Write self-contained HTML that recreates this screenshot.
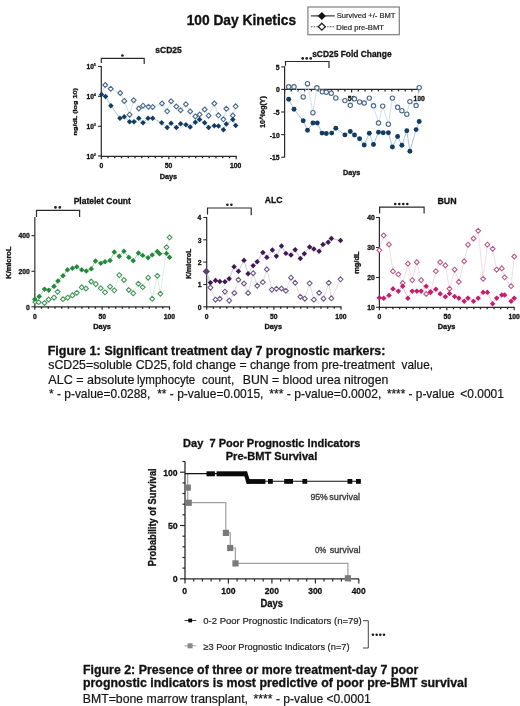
<!DOCTYPE html>
<html><head><meta charset="utf-8"><title>100 Day Kinetics</title>
<style>
html,body{margin:0;padding:0;background:#fff;}
body{width:520px;height:706px;overflow:hidden;}
svg{display:block;font-family:"Liberation Sans", sans-serif;filter:blur(0.45px);}
svg text{white-space:pre;}
</style></head>
<body>
<svg width="520" height="706" viewBox="0 0 520 706" xml:space="preserve">
<rect width="520" height="706" fill="#fff"/>
<text x="186.63" y="25.10" font-size="15.0" font-weight="bold" fill="#111" stroke="#111" stroke-width="0.35" textLength="109.43" lengthAdjust="spacingAndGlyphs" >100 Day Kinetics</text>
<rect x="307.9" y="7.0" width="91.4" height="27.7" fill="none" stroke="#7e7e7e" stroke-width="1.2"/>
<line x1="310.9" y1="15.9" x2="334.8" y2="15.9" stroke="#222" stroke-width="1.1" />
<path d="M321.8,11.9L325.8,15.9L321.8,19.9L317.8,15.9Z" fill="#111"/>
<line x1="310.9" y1="26.7" x2="334.8" y2="26.7" stroke="#555" stroke-width="1.1" stroke-dasharray="1.6 1.1"/>
<path d="M321.8,23.2L325.3,26.7L321.8,30.2L318.3,26.7Z" fill="#fff" stroke="#222" stroke-width="1.3"/>
<text x="336.66" y="18.10" font-size="7" fill="#2a2a2a" stroke="#2a2a2a" stroke-width="0.2" textLength="58.72" lengthAdjust="spacingAndGlyphs" >Survived +/- BMT</text>
<text x="336.37" y="29.60" font-size="7" fill="#2a2a2a" stroke="#2a2a2a" stroke-width="0.2" textLength="47.60" lengthAdjust="spacingAndGlyphs" >Died pre-BMT</text>
<text x="155.30" y="52.90" font-size="9.3" font-weight="bold" fill="#111" stroke="#111" stroke-width="0.3" textLength="26.43" lengthAdjust="spacingAndGlyphs" >sCD25</text>
<path d="M101.3,63 V58.3 H144.2 V64" stroke="#2a2a2a" stroke-width="1.2" fill="none" />
<circle cx="122.4" cy="55.5" r="1.3" fill="#1a1a1a"/>
<line x1="101.3" y1="65.9" x2="101.3" y2="156.3" stroke="#2a2a2a" stroke-width="1.2" />
<line x1="98.0" y1="66.5" x2="101.3" y2="66.5" stroke="#2a2a2a" stroke-width="1.1" />
<line x1="98.0" y1="96.3" x2="101.3" y2="96.3" stroke="#2a2a2a" stroke-width="1.1" />
<line x1="98.0" y1="126.3" x2="101.3" y2="126.3" stroke="#2a2a2a" stroke-width="1.1" />
<line x1="98.0" y1="156.0" x2="101.3" y2="156.0" stroke="#2a2a2a" stroke-width="1.1" />
<text x="86.53" y="69.37" font-size="6.6" font-weight="bold" fill="#111" stroke="#111" stroke-width="0.3">10</text>
<text x="93.70" y="66.37" font-size="3.9" font-weight="bold" fill="#111" stroke="#111" stroke-width="0.2">5</text>
<text x="86.53" y="99.17" font-size="6.6" font-weight="bold" fill="#111" stroke="#111" stroke-width="0.3">10</text>
<text x="93.70" y="96.17" font-size="3.9" font-weight="bold" fill="#111" stroke="#111" stroke-width="0.2">4</text>
<text x="86.53" y="129.17" font-size="6.6" font-weight="bold" fill="#111" stroke="#111" stroke-width="0.3">10</text>
<text x="93.70" y="126.17" font-size="3.9" font-weight="bold" fill="#111" stroke="#111" stroke-width="0.2">3</text>
<text x="86.53" y="158.87" font-size="6.6" font-weight="bold" fill="#111" stroke="#111" stroke-width="0.3">10</text>
<text x="93.70" y="155.87" font-size="3.9" font-weight="bold" fill="#111" stroke="#111" stroke-width="0.2">2</text>
<line x1="100.8" y1="156.3" x2="236.7" y2="156.3" stroke="#2a2a2a" stroke-width="1.3" />
<line x1="101.3" y1="156.3" x2="101.3" y2="159.3" stroke="#2a2a2a" stroke-width="1.2" />
<line x1="108.0" y1="156.3" x2="108.0" y2="158.3" stroke="#2a2a2a" stroke-width="1.35" />
<line x1="114.8" y1="156.3" x2="114.8" y2="158.3" stroke="#2a2a2a" stroke-width="1.35" />
<line x1="121.5" y1="156.3" x2="121.5" y2="158.3" stroke="#2a2a2a" stroke-width="1.35" />
<line x1="128.3" y1="156.3" x2="128.3" y2="158.3" stroke="#2a2a2a" stroke-width="1.35" />
<line x1="135.0" y1="156.3" x2="135.0" y2="158.3" stroke="#2a2a2a" stroke-width="1.35" />
<line x1="141.8" y1="156.3" x2="141.8" y2="158.3" stroke="#2a2a2a" stroke-width="1.35" />
<line x1="148.5" y1="156.3" x2="148.5" y2="158.3" stroke="#2a2a2a" stroke-width="1.35" />
<line x1="155.3" y1="156.3" x2="155.3" y2="158.3" stroke="#2a2a2a" stroke-width="1.35" />
<line x1="162.0" y1="156.3" x2="162.0" y2="158.3" stroke="#2a2a2a" stroke-width="1.35" />
<line x1="168.8" y1="156.3" x2="168.8" y2="159.3" stroke="#2a2a2a" stroke-width="1.2" />
<line x1="175.5" y1="156.3" x2="175.5" y2="158.3" stroke="#2a2a2a" stroke-width="1.35" />
<line x1="182.2" y1="156.3" x2="182.2" y2="158.3" stroke="#2a2a2a" stroke-width="1.35" />
<line x1="189.0" y1="156.3" x2="189.0" y2="158.3" stroke="#2a2a2a" stroke-width="1.35" />
<line x1="195.7" y1="156.3" x2="195.7" y2="158.3" stroke="#2a2a2a" stroke-width="1.35" />
<line x1="202.5" y1="156.3" x2="202.5" y2="158.3" stroke="#2a2a2a" stroke-width="1.35" />
<line x1="209.2" y1="156.3" x2="209.2" y2="158.3" stroke="#2a2a2a" stroke-width="1.35" />
<line x1="216.0" y1="156.3" x2="216.0" y2="158.3" stroke="#2a2a2a" stroke-width="1.35" />
<line x1="222.7" y1="156.3" x2="222.7" y2="158.3" stroke="#2a2a2a" stroke-width="1.35" />
<line x1="229.5" y1="156.3" x2="229.5" y2="158.3" stroke="#2a2a2a" stroke-width="1.35" />
<line x1="236.2" y1="156.3" x2="236.2" y2="159.3" stroke="#2a2a2a" stroke-width="1.2" />
<text x="99.41" y="167.54" font-size="6.8" font-weight="bold" fill="#111" stroke="#111" stroke-width="0.3">0</text>
<text x="164.85" y="167.54" font-size="6.8" font-weight="bold" fill="#111" stroke="#111" stroke-width="0.3">50</text>
<text x="230.05" y="167.54" font-size="6.8" font-weight="bold" fill="#111" stroke="#111" stroke-width="0.3">100</text>
<text x="159.71" y="179.00" font-size="7" font-weight="bold" fill="#111" stroke="#111" stroke-width="0.3" textLength="17.49" lengthAdjust="spacingAndGlyphs" >Days</text>
<text transform="translate(77.40,135.38) rotate(-90)" x="0" y="0" font-size="5.9" font-weight="bold" fill="#111" stroke="#111" stroke-width="0.3" textLength="47.23" lengthAdjust="spacingAndGlyphs">ng/dL (log 10)</text>
<polyline points="101.5,94.4 105.2,85.0 110.7,88.8 120.2,93.0 124.3,100.9 129.6,114.7 133.7,100.2 138.8,108.5 143.0,105.7 148.5,106.8 152.7,107.1 162.0,103.4 167.2,111.3 171.1,101.2 176.3,106.6 180.6,110.2 185.9,104.2 190.2,111.4 195.3,116.4 199.6,114.6 204.7,109.5 208.6,115.7 214.3,103.5 218.4,115.3 223.4,119.3 226.3,108.8 232.8,115.6 235.7,106.3" fill="none" stroke="#c9d6e2" stroke-width="0.8"/>
<polyline points="101.5,94.4 105.6,96.5 110.9,105.7 119.9,118.2 124.3,116.8 129.6,121.8 134.0,121.8 138.8,118.2 143.0,122.8 148.1,118.2 152.7,118.2 161.7,122.8 167.2,127.6 171.1,123.2 176.3,127.5 180.6,123.7 185.9,124.7 190.2,127.1 195.3,122.2 199.6,119.6 204.7,122.8 208.6,127.5 214.3,125.7 218.4,126.1 223.4,129.7 226.3,124.0 232.8,119.6 235.7,125.4" fill="none" stroke="#9dbfd9" stroke-width="0.9"/>
<path d="M105.2,82.5L107.7,85.0L105.2,87.5L102.8,85.0Z" fill="#fff" stroke="#4a6a8c" stroke-width="1.1"/>
<path d="M110.7,86.3L113.2,88.8L110.7,91.2L108.2,88.8Z" fill="#fff" stroke="#4a6a8c" stroke-width="1.1"/>
<path d="M120.2,90.5L122.7,93.0L120.2,95.5L117.8,93.0Z" fill="#fff" stroke="#4a6a8c" stroke-width="1.1"/>
<path d="M124.3,98.5L126.8,100.9L124.3,103.4L121.8,100.9Z" fill="#fff" stroke="#4a6a8c" stroke-width="1.1"/>
<path d="M129.6,112.2L132.0,114.7L129.6,117.2L127.1,114.7Z" fill="#fff" stroke="#4a6a8c" stroke-width="1.1"/>
<path d="M133.7,97.8L136.1,100.2L133.7,102.7L131.2,100.2Z" fill="#fff" stroke="#4a6a8c" stroke-width="1.1"/>
<path d="M138.8,106.0L141.2,108.5L138.8,111.0L136.4,108.5Z" fill="#fff" stroke="#4a6a8c" stroke-width="1.1"/>
<path d="M143.0,103.2L145.4,105.7L143.0,108.2L140.6,105.7Z" fill="#fff" stroke="#4a6a8c" stroke-width="1.1"/>
<path d="M148.5,104.3L150.9,106.8L148.5,109.2L146.1,106.8Z" fill="#fff" stroke="#4a6a8c" stroke-width="1.1"/>
<path d="M152.7,104.6L155.1,107.1L152.7,109.5L150.2,107.1Z" fill="#fff" stroke="#4a6a8c" stroke-width="1.1"/>
<path d="M162.0,101.0L164.4,103.4L162.0,105.9L159.6,103.4Z" fill="#fff" stroke="#4a6a8c" stroke-width="1.1"/>
<path d="M167.2,108.8L169.6,111.3L167.2,113.8L164.8,111.3Z" fill="#fff" stroke="#4a6a8c" stroke-width="1.1"/>
<path d="M171.1,98.8L173.5,101.2L171.1,103.7L168.7,101.2Z" fill="#fff" stroke="#4a6a8c" stroke-width="1.1"/>
<path d="M176.3,104.1L178.8,106.6L176.3,109.0L173.9,106.6Z" fill="#fff" stroke="#4a6a8c" stroke-width="1.1"/>
<path d="M180.6,107.8L183.0,110.2L180.6,112.7L178.2,110.2Z" fill="#fff" stroke="#4a6a8c" stroke-width="1.1"/>
<path d="M185.9,101.8L188.3,104.2L185.9,106.7L183.5,104.2Z" fill="#fff" stroke="#4a6a8c" stroke-width="1.1"/>
<path d="M190.2,109.0L192.6,111.4L190.2,113.9L187.8,111.4Z" fill="#fff" stroke="#4a6a8c" stroke-width="1.1"/>
<path d="M195.3,114.0L197.8,116.4L195.3,118.9L192.9,116.4Z" fill="#fff" stroke="#4a6a8c" stroke-width="1.1"/>
<path d="M199.6,112.1L202.0,114.6L199.6,117.0L197.2,114.6Z" fill="#fff" stroke="#4a6a8c" stroke-width="1.1"/>
<path d="M204.7,107.0L207.1,109.5L204.7,112.0L202.2,109.5Z" fill="#fff" stroke="#4a6a8c" stroke-width="1.1"/>
<path d="M208.6,113.2L211.0,115.7L208.6,118.2L206.2,115.7Z" fill="#fff" stroke="#4a6a8c" stroke-width="1.1"/>
<path d="M214.3,101.0L216.8,103.5L214.3,106.0L211.9,103.5Z" fill="#fff" stroke="#4a6a8c" stroke-width="1.1"/>
<path d="M218.4,112.8L220.8,115.3L218.4,117.8L216.0,115.3Z" fill="#fff" stroke="#4a6a8c" stroke-width="1.1"/>
<path d="M223.4,116.8L225.8,119.3L223.4,121.8L221.0,119.3Z" fill="#fff" stroke="#4a6a8c" stroke-width="1.1"/>
<path d="M226.3,106.3L228.8,108.8L226.3,111.2L223.9,108.8Z" fill="#fff" stroke="#4a6a8c" stroke-width="1.1"/>
<path d="M232.8,113.1L235.2,115.6L232.8,118.0L230.4,115.6Z" fill="#fff" stroke="#4a6a8c" stroke-width="1.1"/>
<path d="M235.7,103.8L238.1,106.3L235.7,108.8L233.2,106.3Z" fill="#fff" stroke="#4a6a8c" stroke-width="1.1"/>
<path d="M101.5,91.7L104.2,94.4L101.5,97.2L98.8,94.4Z" fill="#143c62"/>
<path d="M105.6,93.8L108.3,96.5L105.6,99.2L102.8,96.5Z" fill="#143c62"/>
<path d="M110.9,103.0L113.7,105.7L110.9,108.5L108.2,105.7Z" fill="#143c62"/>
<path d="M119.9,115.5L122.7,118.2L119.9,121.0L117.2,118.2Z" fill="#143c62"/>
<path d="M124.3,114.0L127.0,116.8L124.3,119.5L121.5,116.8Z" fill="#143c62"/>
<path d="M129.6,119.0L132.3,121.8L129.6,124.5L126.8,121.8Z" fill="#143c62"/>
<path d="M134.0,119.0L136.8,121.8L134.0,124.5L131.2,121.8Z" fill="#143c62"/>
<path d="M138.8,115.5L141.6,118.2L138.8,121.0L136.1,118.2Z" fill="#143c62"/>
<path d="M143.0,120.0L145.8,122.8L143.0,125.5L140.2,122.8Z" fill="#143c62"/>
<path d="M148.1,115.5L150.8,118.2L148.1,121.0L145.3,118.2Z" fill="#143c62"/>
<path d="M152.7,115.5L155.4,118.2L152.7,121.0L149.9,118.2Z" fill="#143c62"/>
<path d="M161.7,120.0L164.4,122.8L161.7,125.5L158.9,122.8Z" fill="#143c62"/>
<path d="M167.2,124.8L169.9,127.6L167.2,130.3L164.4,127.6Z" fill="#143c62"/>
<path d="M171.1,120.5L173.8,123.2L171.1,126.0L168.3,123.2Z" fill="#143c62"/>
<path d="M176.3,124.8L179.1,127.5L176.3,130.2L173.6,127.5Z" fill="#143c62"/>
<path d="M180.6,121.0L183.3,123.7L180.6,126.5L177.8,123.7Z" fill="#143c62"/>
<path d="M185.9,122.0L188.7,124.7L185.9,127.5L183.2,124.7Z" fill="#143c62"/>
<path d="M190.2,124.3L192.9,127.1L190.2,129.8L187.4,127.1Z" fill="#143c62"/>
<path d="M195.3,119.5L198.1,122.2L195.3,125.0L192.6,122.2Z" fill="#143c62"/>
<path d="M199.6,116.8L202.3,119.6L199.6,122.3L196.8,119.6Z" fill="#143c62"/>
<path d="M204.7,120.0L207.4,122.8L204.7,125.5L201.9,122.8Z" fill="#143c62"/>
<path d="M208.6,124.8L211.3,127.5L208.6,130.2L205.8,127.5Z" fill="#143c62"/>
<path d="M214.3,123.0L217.1,125.7L214.3,128.4L211.6,125.7Z" fill="#143c62"/>
<path d="M218.4,123.3L221.2,126.1L218.4,128.8L215.7,126.1Z" fill="#143c62"/>
<path d="M223.4,126.9L226.2,129.7L223.4,132.4L220.7,129.7Z" fill="#143c62"/>
<path d="M226.3,121.2L229.1,124.0L226.3,126.8L223.6,124.0Z" fill="#143c62"/>
<path d="M232.8,116.8L235.6,119.6L232.8,122.3L230.1,119.6Z" fill="#143c62"/>
<path d="M235.7,122.7L238.4,125.4L235.7,128.2L232.9,125.4Z" fill="#143c62"/>
<text x="312.20" y="57.00" font-size="9.3" font-weight="bold" fill="#111" stroke="#111" stroke-width="0.3" textLength="79.38" lengthAdjust="spacingAndGlyphs" >sCD25 Fold Change</text>
<path d="M285.5,65.8 V61.5 H329 V67.9" stroke="#2a2a2a" stroke-width="1.2" fill="none" />
<circle cx="302.7" cy="58.4" r="1.3" fill="#1a1a1a"/>
<circle cx="306.7" cy="58.4" r="1.3" fill="#1a1a1a"/>
<circle cx="310.7" cy="58.4" r="1.3" fill="#1a1a1a"/>
<line x1="284.6" y1="66.3" x2="284.6" y2="157.5" stroke="#2a2a2a" stroke-width="1.2" />
<line x1="281.2" y1="66.9" x2="284.6" y2="66.9" stroke="#2a2a2a" stroke-width="1.1" />
<line x1="281.2" y1="89.4" x2="284.6" y2="89.4" stroke="#2a2a2a" stroke-width="1.1" />
<line x1="281.2" y1="112.0" x2="284.6" y2="112.0" stroke="#2a2a2a" stroke-width="1.1" />
<line x1="281.2" y1="134.6" x2="284.6" y2="134.6" stroke="#2a2a2a" stroke-width="1.1" />
<line x1="281.2" y1="157.2" x2="284.6" y2="157.2" stroke="#2a2a2a" stroke-width="1.1" />
<text x="275.81" y="69.91" font-size="6.8" font-weight="bold" fill="#111" stroke="#111" stroke-width="0.3">5</text>
<text x="275.90" y="92.44" font-size="6.8" font-weight="bold" fill="#111" stroke="#111" stroke-width="0.3">0</text>
<text x="273.54" y="115.01" font-size="6.8" font-weight="bold" fill="#111" stroke="#111" stroke-width="0.3">-5</text>
<text x="269.85" y="137.64" font-size="6.8" font-weight="bold" fill="#111" stroke="#111" stroke-width="0.3">-10</text>
<text x="269.76" y="160.21" font-size="6.8" font-weight="bold" fill="#111" stroke="#111" stroke-width="0.3">-15</text>
<line x1="284.1" y1="89.4" x2="419.1" y2="89.4" stroke="#2a2a2a" stroke-width="1.3" />
<line x1="284.6" y1="89.4" x2="284.6" y2="92.4" stroke="#2a2a2a" stroke-width="1.2" />
<line x1="291.3" y1="89.4" x2="291.3" y2="91.4" stroke="#2a2a2a" stroke-width="1.35" />
<line x1="298.0" y1="89.4" x2="298.0" y2="91.4" stroke="#2a2a2a" stroke-width="1.35" />
<line x1="304.7" y1="89.4" x2="304.7" y2="91.4" stroke="#2a2a2a" stroke-width="1.35" />
<line x1="311.4" y1="89.4" x2="311.4" y2="91.4" stroke="#2a2a2a" stroke-width="1.35" />
<line x1="318.1" y1="89.4" x2="318.1" y2="91.4" stroke="#2a2a2a" stroke-width="1.35" />
<line x1="324.8" y1="89.4" x2="324.8" y2="91.4" stroke="#2a2a2a" stroke-width="1.35" />
<line x1="331.5" y1="89.4" x2="331.5" y2="91.4" stroke="#2a2a2a" stroke-width="1.35" />
<line x1="338.2" y1="89.4" x2="338.2" y2="91.4" stroke="#2a2a2a" stroke-width="1.35" />
<line x1="344.9" y1="89.4" x2="344.9" y2="91.4" stroke="#2a2a2a" stroke-width="1.35" />
<line x1="351.6" y1="89.4" x2="351.6" y2="92.4" stroke="#2a2a2a" stroke-width="1.2" />
<line x1="358.3" y1="89.4" x2="358.3" y2="91.4" stroke="#2a2a2a" stroke-width="1.35" />
<line x1="365.0" y1="89.4" x2="365.0" y2="91.4" stroke="#2a2a2a" stroke-width="1.35" />
<line x1="371.7" y1="89.4" x2="371.7" y2="91.4" stroke="#2a2a2a" stroke-width="1.35" />
<line x1="378.4" y1="89.4" x2="378.4" y2="91.4" stroke="#2a2a2a" stroke-width="1.35" />
<line x1="385.1" y1="89.4" x2="385.1" y2="91.4" stroke="#2a2a2a" stroke-width="1.35" />
<line x1="391.8" y1="89.4" x2="391.8" y2="91.4" stroke="#2a2a2a" stroke-width="1.35" />
<line x1="398.5" y1="89.4" x2="398.5" y2="91.4" stroke="#2a2a2a" stroke-width="1.35" />
<line x1="405.2" y1="89.4" x2="405.2" y2="91.4" stroke="#2a2a2a" stroke-width="1.35" />
<line x1="411.9" y1="89.4" x2="411.9" y2="91.4" stroke="#2a2a2a" stroke-width="1.35" />
<line x1="418.6" y1="89.4" x2="418.6" y2="92.4" stroke="#2a2a2a" stroke-width="1.2" />
<text x="347.85" y="101.14" font-size="6.8" font-weight="bold" fill="#111" stroke="#111" stroke-width="0.3">50</text>
<text x="413.45" y="101.14" font-size="6.8" font-weight="bold" fill="#111" stroke="#111" stroke-width="0.3">100</text>
<text x="343.02" y="175.40" font-size="7" font-weight="bold" fill="#111" stroke="#111" stroke-width="0.3" textLength="17.28" lengthAdjust="spacingAndGlyphs" >Days</text>
<text transform="translate(265.00,127.84) rotate(-90)" x="0" y="0" font-size="6.6" font-weight="bold" fill="#111" stroke="#111" stroke-width="0.3" textLength="31.69" lengthAdjust="spacingAndGlyphs">10^log(Y)</text>
<polyline points="288.7,86.8 294.0,86.8 303.2,96.9 307.5,83.7 312.9,112.7 316.9,87.8 322.3,91.8 326.3,92.2 331.2,93.2 335.8,97.9 344.9,100.6 350.3,105.3 354.5,98.8 359.6,101.9 364.2,103.0 369.3,98.1 373.5,105.8 378.5,123.0 382.7,106.1 388.4,124.2 392.4,98.1 397.6,107.3 401.9,110.7 406.8,114.2 409.9,101.6 416.1,105.5 419.2,87.6" fill="none" stroke="#c9d6e2" stroke-width="0.8"/>
<polyline points="288.7,99.2 294.0,109.3 303.2,120.8 307.5,130.2 312.9,123.0 317.3,123.0 322.0,133.1 326.3,133.5 331.7,133.1 335.8,128.2 344.9,134.9 350.3,131.5 354.5,135.0 359.6,138.8 364.2,145.0 369.3,133.2 373.5,144.5 378.5,132.2 383.2,132.7 388.4,132.7 392.4,147.0 397.6,136.5 401.9,145.3 406.8,130.7 409.9,151.2 416.1,129.6 419.2,121.5" fill="none" stroke="#9dbfd9" stroke-width="0.9"/>
<circle cx="288.7" cy="86.8" r="2.15" fill="#fff" stroke="#4a6a8c" stroke-width="1.15"/>
<circle cx="294.0" cy="86.8" r="2.15" fill="#fff" stroke="#4a6a8c" stroke-width="1.15"/>
<circle cx="303.2" cy="96.9" r="2.15" fill="#fff" stroke="#4a6a8c" stroke-width="1.15"/>
<circle cx="307.5" cy="83.7" r="2.15" fill="#fff" stroke="#4a6a8c" stroke-width="1.15"/>
<circle cx="312.9" cy="112.7" r="2.15" fill="#fff" stroke="#4a6a8c" stroke-width="1.15"/>
<circle cx="316.9" cy="87.8" r="2.15" fill="#fff" stroke="#4a6a8c" stroke-width="1.15"/>
<circle cx="322.3" cy="91.8" r="2.15" fill="#fff" stroke="#4a6a8c" stroke-width="1.15"/>
<circle cx="326.3" cy="92.2" r="2.15" fill="#fff" stroke="#4a6a8c" stroke-width="1.15"/>
<circle cx="331.2" cy="93.2" r="2.15" fill="#fff" stroke="#4a6a8c" stroke-width="1.15"/>
<circle cx="335.8" cy="97.9" r="2.15" fill="#fff" stroke="#4a6a8c" stroke-width="1.15"/>
<circle cx="344.9" cy="100.6" r="2.15" fill="#fff" stroke="#4a6a8c" stroke-width="1.15"/>
<circle cx="350.3" cy="105.3" r="2.15" fill="#fff" stroke="#4a6a8c" stroke-width="1.15"/>
<circle cx="354.5" cy="98.8" r="2.15" fill="#fff" stroke="#4a6a8c" stroke-width="1.15"/>
<circle cx="359.6" cy="101.9" r="2.15" fill="#fff" stroke="#4a6a8c" stroke-width="1.15"/>
<circle cx="364.2" cy="103.0" r="2.15" fill="#fff" stroke="#4a6a8c" stroke-width="1.15"/>
<circle cx="369.3" cy="98.1" r="2.15" fill="#fff" stroke="#4a6a8c" stroke-width="1.15"/>
<circle cx="373.5" cy="105.8" r="2.15" fill="#fff" stroke="#4a6a8c" stroke-width="1.15"/>
<circle cx="378.5" cy="123.0" r="2.15" fill="#fff" stroke="#4a6a8c" stroke-width="1.15"/>
<circle cx="382.7" cy="106.1" r="2.15" fill="#fff" stroke="#4a6a8c" stroke-width="1.15"/>
<circle cx="388.4" cy="124.2" r="2.15" fill="#fff" stroke="#4a6a8c" stroke-width="1.15"/>
<circle cx="392.4" cy="98.1" r="2.15" fill="#fff" stroke="#4a6a8c" stroke-width="1.15"/>
<circle cx="397.6" cy="107.3" r="2.15" fill="#fff" stroke="#4a6a8c" stroke-width="1.15"/>
<circle cx="401.9" cy="110.7" r="2.15" fill="#fff" stroke="#4a6a8c" stroke-width="1.15"/>
<circle cx="406.8" cy="114.2" r="2.15" fill="#fff" stroke="#4a6a8c" stroke-width="1.15"/>
<circle cx="409.9" cy="101.6" r="2.15" fill="#fff" stroke="#4a6a8c" stroke-width="1.15"/>
<circle cx="416.1" cy="105.5" r="2.15" fill="#fff" stroke="#4a6a8c" stroke-width="1.15"/>
<circle cx="419.2" cy="87.6" r="2.15" fill="#fff" stroke="#4a6a8c" stroke-width="1.15"/>
<circle cx="288.7" cy="99.2" r="2.45" fill="#143c62"/>
<circle cx="294.0" cy="109.3" r="2.45" fill="#143c62"/>
<circle cx="303.2" cy="120.8" r="2.45" fill="#143c62"/>
<circle cx="307.5" cy="130.2" r="2.45" fill="#143c62"/>
<circle cx="312.9" cy="123.0" r="2.45" fill="#143c62"/>
<circle cx="317.3" cy="123.0" r="2.45" fill="#143c62"/>
<circle cx="322.0" cy="133.1" r="2.45" fill="#143c62"/>
<circle cx="326.3" cy="133.5" r="2.45" fill="#143c62"/>
<circle cx="331.7" cy="133.1" r="2.45" fill="#143c62"/>
<circle cx="335.8" cy="128.2" r="2.45" fill="#143c62"/>
<circle cx="344.9" cy="134.9" r="2.45" fill="#143c62"/>
<circle cx="350.3" cy="131.5" r="2.45" fill="#143c62"/>
<circle cx="354.5" cy="135.0" r="2.45" fill="#143c62"/>
<circle cx="359.6" cy="138.8" r="2.45" fill="#143c62"/>
<circle cx="364.2" cy="145.0" r="2.45" fill="#143c62"/>
<circle cx="369.3" cy="133.2" r="2.45" fill="#143c62"/>
<circle cx="373.5" cy="144.5" r="2.45" fill="#143c62"/>
<circle cx="378.5" cy="132.2" r="2.45" fill="#143c62"/>
<circle cx="383.2" cy="132.7" r="2.45" fill="#143c62"/>
<circle cx="388.4" cy="132.7" r="2.45" fill="#143c62"/>
<circle cx="392.4" cy="147.0" r="2.45" fill="#143c62"/>
<circle cx="397.6" cy="136.5" r="2.45" fill="#143c62"/>
<circle cx="401.9" cy="145.3" r="2.45" fill="#143c62"/>
<circle cx="406.8" cy="130.7" r="2.45" fill="#143c62"/>
<circle cx="409.9" cy="151.2" r="2.45" fill="#143c62"/>
<circle cx="416.1" cy="129.6" r="2.45" fill="#143c62"/>
<circle cx="419.2" cy="121.5" r="2.45" fill="#143c62"/>
<text x="73.63" y="203.90" font-size="9.3" font-weight="bold" fill="#111" stroke="#111" stroke-width="0.3" textLength="57.27" lengthAdjust="spacingAndGlyphs" >Platelet Count</text>
<path d="M36.5,217 V210.4 H79.6 V217" stroke="#2a2a2a" stroke-width="1.2" fill="none" />
<circle cx="55.5" cy="207.4" r="1.3" fill="#1a1a1a"/>
<circle cx="59.8" cy="207.4" r="1.3" fill="#1a1a1a"/>
<line x1="34.8" y1="217.1" x2="34.8" y2="307.2" stroke="#5a5a5a" stroke-width="1.5" />
<line x1="31.4" y1="235.6" x2="34.8" y2="235.6" stroke="#2a2a2a" stroke-width="1.1" />
<line x1="31.4" y1="271.3" x2="34.8" y2="271.3" stroke="#2a2a2a" stroke-width="1.1" />
<line x1="31.4" y1="306.8" x2="34.8" y2="306.8" stroke="#2a2a2a" stroke-width="1.1" />
<text x="18.53" y="238.44" font-size="6.8" font-weight="bold" fill="#111" stroke="#111" stroke-width="0.3">400</text>
<text x="18.53" y="274.14" font-size="6.8" font-weight="bold" fill="#111" stroke="#111" stroke-width="0.3">200</text>
<text x="26.10" y="309.64" font-size="6.8" font-weight="bold" fill="#111" stroke="#111" stroke-width="0.3">0</text>
<line x1="34.3" y1="306.8" x2="170.0" y2="306.8" stroke="#2a2a2a" stroke-width="1.3" />
<line x1="34.8" y1="306.8" x2="34.8" y2="309.8" stroke="#2a2a2a" stroke-width="1.2" />
<line x1="41.5" y1="306.8" x2="41.5" y2="308.8" stroke="#2a2a2a" stroke-width="1.35" />
<line x1="48.3" y1="306.8" x2="48.3" y2="308.8" stroke="#2a2a2a" stroke-width="1.35" />
<line x1="55.0" y1="306.8" x2="55.0" y2="308.8" stroke="#2a2a2a" stroke-width="1.35" />
<line x1="61.7" y1="306.8" x2="61.7" y2="308.8" stroke="#2a2a2a" stroke-width="1.35" />
<line x1="68.5" y1="306.8" x2="68.5" y2="308.8" stroke="#2a2a2a" stroke-width="1.35" />
<line x1="75.2" y1="306.8" x2="75.2" y2="308.8" stroke="#2a2a2a" stroke-width="1.35" />
<line x1="81.9" y1="306.8" x2="81.9" y2="308.8" stroke="#2a2a2a" stroke-width="1.35" />
<line x1="88.7" y1="306.8" x2="88.7" y2="308.8" stroke="#2a2a2a" stroke-width="1.35" />
<line x1="95.4" y1="306.8" x2="95.4" y2="308.8" stroke="#2a2a2a" stroke-width="1.35" />
<line x1="102.1" y1="306.8" x2="102.1" y2="309.8" stroke="#2a2a2a" stroke-width="1.2" />
<line x1="108.9" y1="306.8" x2="108.9" y2="308.8" stroke="#2a2a2a" stroke-width="1.35" />
<line x1="115.6" y1="306.8" x2="115.6" y2="308.8" stroke="#2a2a2a" stroke-width="1.35" />
<line x1="122.4" y1="306.8" x2="122.4" y2="308.8" stroke="#2a2a2a" stroke-width="1.35" />
<line x1="129.1" y1="306.8" x2="129.1" y2="308.8" stroke="#2a2a2a" stroke-width="1.35" />
<line x1="135.8" y1="306.8" x2="135.8" y2="308.8" stroke="#2a2a2a" stroke-width="1.35" />
<line x1="142.6" y1="306.8" x2="142.6" y2="308.8" stroke="#2a2a2a" stroke-width="1.35" />
<line x1="149.3" y1="306.8" x2="149.3" y2="308.8" stroke="#2a2a2a" stroke-width="1.35" />
<line x1="156.0" y1="306.8" x2="156.0" y2="308.8" stroke="#2a2a2a" stroke-width="1.35" />
<line x1="162.8" y1="306.8" x2="162.8" y2="308.8" stroke="#2a2a2a" stroke-width="1.35" />
<line x1="169.5" y1="306.8" x2="169.5" y2="309.8" stroke="#2a2a2a" stroke-width="1.2" />
<text x="32.91" y="318.74" font-size="6.8" font-weight="bold" fill="#111" stroke="#111" stroke-width="0.3">0</text>
<text x="98.45" y="318.74" font-size="6.8" font-weight="bold" fill="#111" stroke="#111" stroke-width="0.3">50</text>
<text x="163.75" y="318.74" font-size="6.8" font-weight="bold" fill="#111" stroke="#111" stroke-width="0.3">100</text>
<text x="93.20" y="329.00" font-size="7" font-weight="bold" fill="#111" stroke="#111" stroke-width="0.3" textLength="17.70" lengthAdjust="spacingAndGlyphs" >Days</text>
<text transform="translate(11.00,278.70) rotate(-90)" x="0" y="0" font-size="6.8" font-weight="bold" fill="#111" stroke="#111" stroke-width="0.3" textLength="32.12" lengthAdjust="spacingAndGlyphs">K/microL</text>
<polyline points="35.4,301.9 38.7,302.2 44.5,303.0 48.6,299.5 54.0,297.6 57.6,291.8 63.0,299.2 67.7,297.6 72.4,295.4 76.8,292.8 81.8,287.4 85.9,288.5 91.2,281.5 95.8,284.1 100.8,288.2 105.0,292.3 110.1,286.6 114.2,290.3 119.3,275.1 123.9,280.0 128.8,290.0 133.2,293.4 138.4,283.8 142.7,287.2 148.1,277.7 152.2,298.9 157.3,275.8 160.4,293.8 166.5,247.2 169.6,237.4" fill="none" stroke="#d4ead8" stroke-width="0.8"/>
<polyline points="34.7,299.2 39.2,296.5 44.5,289.1 48.8,290.1 54.0,286.4 58.0,281.0 63.0,275.7 67.4,269.9 72.4,268.3 76.8,266.9 81.8,269.9 86.3,271.0 91.2,268.9 95.5,261.0 100.8,263.2 105.0,261.8 110.1,260.5 114.2,252.0 119.3,256.2 123.9,251.2 128.8,257.4 133.2,260.8 138.4,253.1 142.7,255.4 148.1,257.7 152.2,254.9 157.3,251.5 159.6,253.8 166.5,253.4 169.6,257.4" fill="none" stroke="#7fd892" stroke-width="0.9"/>
<path d="M35.4,299.4L37.9,301.9L35.4,304.3L32.9,301.9Z" fill="#fff" stroke="#44985a" stroke-width="1.1"/>
<path d="M38.7,299.8L41.2,302.2L38.7,304.6L36.2,302.2Z" fill="#fff" stroke="#44985a" stroke-width="1.1"/>
<path d="M44.5,300.6L47.0,303.0L44.5,305.4L42.0,303.0Z" fill="#fff" stroke="#44985a" stroke-width="1.1"/>
<path d="M48.6,297.1L51.1,299.5L48.6,301.9L46.1,299.5Z" fill="#fff" stroke="#44985a" stroke-width="1.1"/>
<path d="M54.0,295.2L56.5,297.6L54.0,300.1L51.5,297.6Z" fill="#fff" stroke="#44985a" stroke-width="1.1"/>
<path d="M57.6,289.4L60.1,291.8L57.6,294.2L55.1,291.8Z" fill="#fff" stroke="#44985a" stroke-width="1.1"/>
<path d="M63.0,296.8L65.5,299.2L63.0,301.6L60.5,299.2Z" fill="#fff" stroke="#44985a" stroke-width="1.1"/>
<path d="M67.7,295.2L70.2,297.6L67.7,300.1L65.2,297.6Z" fill="#fff" stroke="#44985a" stroke-width="1.1"/>
<path d="M72.4,292.9L74.9,295.4L72.4,297.8L70.0,295.4Z" fill="#fff" stroke="#44985a" stroke-width="1.1"/>
<path d="M76.8,290.4L79.2,292.8L76.8,295.2L74.3,292.8Z" fill="#fff" stroke="#44985a" stroke-width="1.1"/>
<path d="M81.8,284.9L84.2,287.4L81.8,289.8L79.3,287.4Z" fill="#fff" stroke="#44985a" stroke-width="1.1"/>
<path d="M85.9,286.1L88.4,288.5L85.9,290.9L83.5,288.5Z" fill="#fff" stroke="#44985a" stroke-width="1.1"/>
<path d="M91.2,279.1L93.7,281.5L91.2,283.9L88.8,281.5Z" fill="#fff" stroke="#44985a" stroke-width="1.1"/>
<path d="M95.8,281.7L98.2,284.1L95.8,286.6L93.3,284.1Z" fill="#fff" stroke="#44985a" stroke-width="1.1"/>
<path d="M100.8,285.8L103.2,288.2L100.8,290.6L98.3,288.2Z" fill="#fff" stroke="#44985a" stroke-width="1.1"/>
<path d="M105.0,289.9L107.5,292.3L105.0,294.8L102.5,292.3Z" fill="#fff" stroke="#44985a" stroke-width="1.1"/>
<path d="M110.1,284.2L112.5,286.6L110.1,289.1L107.6,286.6Z" fill="#fff" stroke="#44985a" stroke-width="1.1"/>
<path d="M114.2,287.9L116.7,290.3L114.2,292.8L111.8,290.3Z" fill="#fff" stroke="#44985a" stroke-width="1.1"/>
<path d="M119.3,272.7L121.8,275.1L119.3,277.6L116.8,275.1Z" fill="#fff" stroke="#44985a" stroke-width="1.1"/>
<path d="M123.9,277.6L126.4,280.0L123.9,282.4L121.5,280.0Z" fill="#fff" stroke="#44985a" stroke-width="1.1"/>
<path d="M128.8,287.6L131.2,290.0L128.8,292.4L126.4,290.0Z" fill="#fff" stroke="#44985a" stroke-width="1.1"/>
<path d="M133.2,290.9L135.6,293.4L133.2,295.8L130.8,293.4Z" fill="#fff" stroke="#44985a" stroke-width="1.1"/>
<path d="M138.4,281.4L140.8,283.8L138.4,286.2L136.0,283.8Z" fill="#fff" stroke="#44985a" stroke-width="1.1"/>
<path d="M142.7,284.8L145.1,287.2L142.7,289.6L140.2,287.2Z" fill="#fff" stroke="#44985a" stroke-width="1.1"/>
<path d="M148.1,275.2L150.5,277.7L148.1,280.1L145.7,277.7Z" fill="#fff" stroke="#44985a" stroke-width="1.1"/>
<path d="M152.2,296.4L154.6,298.9L152.2,301.3L149.8,298.9Z" fill="#fff" stroke="#44985a" stroke-width="1.1"/>
<path d="M157.3,273.4L159.8,275.8L157.3,278.2L154.9,275.8Z" fill="#fff" stroke="#44985a" stroke-width="1.1"/>
<path d="M160.4,291.4L162.8,293.8L160.4,296.2L158.0,293.8Z" fill="#fff" stroke="#44985a" stroke-width="1.1"/>
<path d="M166.5,244.8L168.9,247.2L166.5,249.6L164.1,247.2Z" fill="#fff" stroke="#44985a" stroke-width="1.1"/>
<path d="M169.6,235.0L172.0,237.4L169.6,239.8L167.2,237.4Z" fill="#fff" stroke="#44985a" stroke-width="1.1"/>
<path d="M34.7,296.4L37.5,299.2L34.7,301.9L32.0,299.2Z" fill="#24883d"/>
<path d="M39.2,293.8L42.0,296.5L39.2,299.2L36.5,296.5Z" fill="#24883d"/>
<path d="M44.5,286.4L47.2,289.1L44.5,291.9L41.8,289.1Z" fill="#24883d"/>
<path d="M48.8,287.4L51.5,290.1L48.8,292.9L46.0,290.1Z" fill="#24883d"/>
<path d="M54.0,283.6L56.8,286.4L54.0,289.1L51.2,286.4Z" fill="#24883d"/>
<path d="M58.0,278.2L60.8,281.0L58.0,283.8L55.2,281.0Z" fill="#24883d"/>
<path d="M63.0,272.9L65.8,275.7L63.0,278.4L60.2,275.7Z" fill="#24883d"/>
<path d="M67.4,267.1L70.2,269.9L67.4,272.6L64.7,269.9Z" fill="#24883d"/>
<path d="M72.4,265.6L75.2,268.3L72.4,271.1L69.7,268.3Z" fill="#24883d"/>
<path d="M76.8,264.1L79.5,266.9L76.8,269.6L74.0,266.9Z" fill="#24883d"/>
<path d="M81.8,267.1L84.5,269.9L81.8,272.6L79.0,269.9Z" fill="#24883d"/>
<path d="M86.3,268.2L89.0,271.0L86.3,273.8L83.5,271.0Z" fill="#24883d"/>
<path d="M91.2,266.1L94.0,268.9L91.2,271.6L88.5,268.9Z" fill="#24883d"/>
<path d="M95.5,258.2L98.2,261.0L95.5,263.8L92.8,261.0Z" fill="#24883d"/>
<path d="M100.8,260.4L103.5,263.2L100.8,265.9L98.0,263.2Z" fill="#24883d"/>
<path d="M105.0,259.1L107.8,261.8L105.0,264.6L102.2,261.8Z" fill="#24883d"/>
<path d="M110.1,257.8L112.8,260.5L110.1,263.2L107.3,260.5Z" fill="#24883d"/>
<path d="M114.2,249.2L117.0,252.0L114.2,254.8L111.5,252.0Z" fill="#24883d"/>
<path d="M119.3,253.4L122.0,256.2L119.3,258.9L116.5,256.2Z" fill="#24883d"/>
<path d="M123.9,248.4L126.7,251.2L123.9,253.9L121.2,251.2Z" fill="#24883d"/>
<path d="M128.8,254.6L131.6,257.4L128.8,260.1L126.1,257.4Z" fill="#24883d"/>
<path d="M133.2,258.1L135.9,260.8L133.2,263.6L130.4,260.8Z" fill="#24883d"/>
<path d="M138.4,250.3L141.2,253.1L138.4,255.8L135.7,253.1Z" fill="#24883d"/>
<path d="M142.7,252.7L145.4,255.4L142.7,258.1L139.9,255.4Z" fill="#24883d"/>
<path d="M148.1,254.9L150.8,257.7L148.1,260.4L145.3,257.7Z" fill="#24883d"/>
<path d="M152.2,252.2L154.9,254.9L152.2,257.6L149.4,254.9Z" fill="#24883d"/>
<path d="M157.3,248.8L160.1,251.5L157.3,254.2L154.6,251.5Z" fill="#24883d"/>
<path d="M159.6,251.1L162.3,253.8L159.6,256.6L156.8,253.8Z" fill="#24883d"/>
<path d="M166.5,250.7L169.2,253.4L166.5,256.1L163.8,253.4Z" fill="#24883d"/>
<path d="M169.6,254.6L172.3,257.4L169.6,260.1L166.8,257.4Z" fill="#24883d"/>
<text x="264.68" y="203.00" font-size="9.3" font-weight="bold" fill="#111" stroke="#111" stroke-width="0.3" textLength="17.75" lengthAdjust="spacingAndGlyphs" >ALC</text>
<path d="M207.5,214.6 V208 H251.2 V215.2" stroke="#2a2a2a" stroke-width="1.2" fill="none" />
<circle cx="227.4" cy="204.8" r="1.3" fill="#1a1a1a"/>
<circle cx="231.4" cy="204.8" r="1.3" fill="#1a1a1a"/>
<line x1="206.7" y1="216.9" x2="206.7" y2="307.2" stroke="#2a2a2a" stroke-width="1.2" />
<line x1="203.3" y1="217.5" x2="206.7" y2="217.5" stroke="#2a2a2a" stroke-width="1.1" />
<line x1="203.3" y1="239.8" x2="206.7" y2="239.8" stroke="#2a2a2a" stroke-width="1.1" />
<line x1="203.3" y1="262.1" x2="206.7" y2="262.1" stroke="#2a2a2a" stroke-width="1.1" />
<line x1="203.3" y1="284.5" x2="206.7" y2="284.5" stroke="#2a2a2a" stroke-width="1.1" />
<line x1="203.3" y1="306.8" x2="206.7" y2="306.8" stroke="#2a2a2a" stroke-width="1.1" />
<text x="197.55" y="220.34" font-size="6.8" font-weight="bold" fill="#111" stroke="#111" stroke-width="0.3">4</text>
<text x="197.76" y="242.64" font-size="6.8" font-weight="bold" fill="#111" stroke="#111" stroke-width="0.3">3</text>
<text x="197.79" y="264.97" font-size="6.8" font-weight="bold" fill="#111" stroke="#111" stroke-width="0.3">2</text>
<text x="197.71" y="287.34" font-size="6.8" font-weight="bold" fill="#111" stroke="#111" stroke-width="0.3">1</text>
<text x="197.80" y="309.64" font-size="6.8" font-weight="bold" fill="#111" stroke="#111" stroke-width="0.3">0</text>
<line x1="206.2" y1="306.8" x2="341.5" y2="306.8" stroke="#2a2a2a" stroke-width="1.3" />
<line x1="206.7" y1="306.8" x2="206.7" y2="309.8" stroke="#2a2a2a" stroke-width="1.2" />
<line x1="213.4" y1="306.8" x2="213.4" y2="308.8" stroke="#2a2a2a" stroke-width="1.35" />
<line x1="220.1" y1="306.8" x2="220.1" y2="308.8" stroke="#2a2a2a" stroke-width="1.35" />
<line x1="226.8" y1="306.8" x2="226.8" y2="308.8" stroke="#2a2a2a" stroke-width="1.35" />
<line x1="233.6" y1="306.8" x2="233.6" y2="308.8" stroke="#2a2a2a" stroke-width="1.35" />
<line x1="240.3" y1="306.8" x2="240.3" y2="308.8" stroke="#2a2a2a" stroke-width="1.35" />
<line x1="247.0" y1="306.8" x2="247.0" y2="308.8" stroke="#2a2a2a" stroke-width="1.35" />
<line x1="253.7" y1="306.8" x2="253.7" y2="308.8" stroke="#2a2a2a" stroke-width="1.35" />
<line x1="260.4" y1="306.8" x2="260.4" y2="308.8" stroke="#2a2a2a" stroke-width="1.35" />
<line x1="267.1" y1="306.8" x2="267.1" y2="308.8" stroke="#2a2a2a" stroke-width="1.35" />
<line x1="273.9" y1="306.8" x2="273.9" y2="309.8" stroke="#2a2a2a" stroke-width="1.2" />
<line x1="280.6" y1="306.8" x2="280.6" y2="308.8" stroke="#2a2a2a" stroke-width="1.35" />
<line x1="287.3" y1="306.8" x2="287.3" y2="308.8" stroke="#2a2a2a" stroke-width="1.35" />
<line x1="294.0" y1="306.8" x2="294.0" y2="308.8" stroke="#2a2a2a" stroke-width="1.35" />
<line x1="300.7" y1="306.8" x2="300.7" y2="308.8" stroke="#2a2a2a" stroke-width="1.35" />
<line x1="307.4" y1="306.8" x2="307.4" y2="308.8" stroke="#2a2a2a" stroke-width="1.35" />
<line x1="314.1" y1="306.8" x2="314.1" y2="308.8" stroke="#2a2a2a" stroke-width="1.35" />
<line x1="320.9" y1="306.8" x2="320.9" y2="308.8" stroke="#2a2a2a" stroke-width="1.35" />
<line x1="327.6" y1="306.8" x2="327.6" y2="308.8" stroke="#2a2a2a" stroke-width="1.35" />
<line x1="334.3" y1="306.8" x2="334.3" y2="308.8" stroke="#2a2a2a" stroke-width="1.35" />
<line x1="341.0" y1="306.8" x2="341.0" y2="309.8" stroke="#2a2a2a" stroke-width="1.2" />
<text x="204.81" y="318.74" font-size="6.8" font-weight="bold" fill="#111" stroke="#111" stroke-width="0.3">0</text>
<text x="270.05" y="318.74" font-size="6.8" font-weight="bold" fill="#111" stroke="#111" stroke-width="0.3">50</text>
<text x="335.25" y="318.74" font-size="6.8" font-weight="bold" fill="#111" stroke="#111" stroke-width="0.3">100</text>
<text x="264.41" y="328.75" font-size="7" font-weight="bold" fill="#111" stroke="#111" stroke-width="0.3" textLength="17.59" lengthAdjust="spacingAndGlyphs" >Days</text>
<text transform="translate(190.90,279.07) rotate(-90)" x="0" y="0" font-size="6.8" font-weight="bold" fill="#111" stroke="#111" stroke-width="0.3" textLength="30.49" lengthAdjust="spacingAndGlyphs">K/microL</text>
<polyline points="206.3,271.4 210.4,287.6 215.5,299.7 219.8,298.8 224.9,291.6 229.2,300.6 234.3,293.0 238.4,279.8 244.0,283.5 248.1,293.0 253.2,273.2 257.2,285.8 262.9,282.2 266.8,269.4 271.9,289.6 276.4,288.8 281.5,288.5 285.9,290.8 291.0,277.7 295.2,282.8 300.3,296.8 304.8,298.7 309.6,283.3 313.9,299.7 319.1,292.8 323.5,298.7 328.7,282.8 331.4,298.4 340.5,279.3" fill="none" stroke="#d6d2da" stroke-width="0.8"/>
<polyline points="206.3,271.4 210.4,282.6 215.5,280.5 219.8,281.5 224.9,281.8 229.2,278.8 234.1,266.7 238.4,271.2 244.0,260.4 248.1,273.7 253.2,265.6 257.2,261.7 262.9,252.6 266.8,257.4 272.4,250.1 276.4,256.1 281.5,246.1 285.9,253.4 291.0,255.0 295.2,249.7 300.3,258.5 304.3,253.7 309.6,247.0 313.9,248.9 319.1,251.3 323.0,244.5 328.2,242.2 331.4,238.6 340.5,240.6" fill="none" stroke="#c4bccc" stroke-width="0.9"/>
<path d="M210.4,285.2L212.8,287.6L210.4,290.1L208.0,287.6Z" fill="#fff" stroke="#6f5a84" stroke-width="1.1"/>
<path d="M215.5,297.2L217.9,299.7L215.5,302.1L213.1,299.7Z" fill="#fff" stroke="#6f5a84" stroke-width="1.1"/>
<path d="M219.8,296.4L222.2,298.8L219.8,301.2L217.4,298.8Z" fill="#fff" stroke="#6f5a84" stroke-width="1.1"/>
<path d="M224.9,289.2L227.3,291.6L224.9,294.1L222.5,291.6Z" fill="#fff" stroke="#6f5a84" stroke-width="1.1"/>
<path d="M229.2,298.2L231.6,300.6L229.2,303.1L226.8,300.6Z" fill="#fff" stroke="#6f5a84" stroke-width="1.1"/>
<path d="M234.3,290.6L236.8,293.0L234.3,295.4L231.9,293.0Z" fill="#fff" stroke="#6f5a84" stroke-width="1.1"/>
<path d="M238.4,277.4L240.8,279.8L238.4,282.2L236.0,279.8Z" fill="#fff" stroke="#6f5a84" stroke-width="1.1"/>
<path d="M244.0,281.1L246.4,283.5L244.0,285.9L241.6,283.5Z" fill="#fff" stroke="#6f5a84" stroke-width="1.1"/>
<path d="M248.1,290.6L250.5,293.0L248.1,295.4L245.7,293.0Z" fill="#fff" stroke="#6f5a84" stroke-width="1.1"/>
<path d="M253.2,270.8L255.6,273.2L253.2,275.6L250.8,273.2Z" fill="#fff" stroke="#6f5a84" stroke-width="1.1"/>
<path d="M257.2,283.4L259.6,285.8L257.2,288.2L254.8,285.8Z" fill="#fff" stroke="#6f5a84" stroke-width="1.1"/>
<path d="M262.9,279.8L265.3,282.2L262.9,284.6L260.4,282.2Z" fill="#fff" stroke="#6f5a84" stroke-width="1.1"/>
<path d="M266.8,266.9L269.2,269.4L266.8,271.8L264.4,269.4Z" fill="#fff" stroke="#6f5a84" stroke-width="1.1"/>
<path d="M271.9,287.2L274.3,289.6L271.9,292.1L269.4,289.6Z" fill="#fff" stroke="#6f5a84" stroke-width="1.1"/>
<path d="M276.4,286.4L278.8,288.8L276.4,291.2L273.9,288.8Z" fill="#fff" stroke="#6f5a84" stroke-width="1.1"/>
<path d="M281.5,286.1L283.9,288.5L281.5,290.9L279.1,288.5Z" fill="#fff" stroke="#6f5a84" stroke-width="1.1"/>
<path d="M285.9,288.4L288.3,290.8L285.9,293.2L283.4,290.8Z" fill="#fff" stroke="#6f5a84" stroke-width="1.1"/>
<path d="M291.0,275.2L293.4,277.7L291.0,280.1L288.6,277.7Z" fill="#fff" stroke="#6f5a84" stroke-width="1.1"/>
<path d="M295.2,280.4L297.6,282.8L295.2,285.2L292.8,282.8Z" fill="#fff" stroke="#6f5a84" stroke-width="1.1"/>
<path d="M300.3,294.4L302.8,296.8L300.3,299.2L297.9,296.8Z" fill="#fff" stroke="#6f5a84" stroke-width="1.1"/>
<path d="M304.8,296.2L307.2,298.7L304.8,301.1L302.4,298.7Z" fill="#fff" stroke="#6f5a84" stroke-width="1.1"/>
<path d="M309.6,280.9L312.1,283.3L309.6,285.8L307.2,283.3Z" fill="#fff" stroke="#6f5a84" stroke-width="1.1"/>
<path d="M313.9,297.2L316.3,299.7L313.9,302.1L311.4,299.7Z" fill="#fff" stroke="#6f5a84" stroke-width="1.1"/>
<path d="M319.1,290.4L321.6,292.8L319.1,295.2L316.7,292.8Z" fill="#fff" stroke="#6f5a84" stroke-width="1.1"/>
<path d="M323.5,296.2L325.9,298.7L323.5,301.1L321.1,298.7Z" fill="#fff" stroke="#6f5a84" stroke-width="1.1"/>
<path d="M328.7,280.4L331.1,282.8L328.7,285.2L326.2,282.8Z" fill="#fff" stroke="#6f5a84" stroke-width="1.1"/>
<path d="M331.4,295.9L333.8,298.4L331.4,300.8L328.9,298.4Z" fill="#fff" stroke="#6f5a84" stroke-width="1.1"/>
<path d="M340.5,276.9L342.9,279.3L340.5,281.8L338.1,279.3Z" fill="#fff" stroke="#6f5a84" stroke-width="1.1"/>
<path d="M206.3,267.7L210.0,271.4L206.3,275.1L202.6,271.4Z" fill="#5e3f78"/>
<path d="M210.4,279.9L213.2,282.6L210.4,285.4L207.7,282.6Z" fill="#3f1856"/>
<path d="M215.5,277.8L218.2,280.5L215.5,283.2L212.8,280.5Z" fill="#3f1856"/>
<path d="M219.8,278.8L222.6,281.5L219.8,284.2L217.1,281.5Z" fill="#3f1856"/>
<path d="M224.9,279.1L227.7,281.8L224.9,284.6L222.2,281.8Z" fill="#3f1856"/>
<path d="M229.2,276.1L231.9,278.8L229.2,281.6L226.4,278.8Z" fill="#3f1856"/>
<path d="M234.1,263.9L236.8,266.7L234.1,269.4L231.3,266.7Z" fill="#3f1856"/>
<path d="M238.4,268.4L241.2,271.2L238.4,273.9L235.7,271.2Z" fill="#3f1856"/>
<path d="M244.0,257.6L246.8,260.4L244.0,263.1L241.2,260.4Z" fill="#3f1856"/>
<path d="M248.1,270.9L250.8,273.7L248.1,276.4L245.3,273.7Z" fill="#3f1856"/>
<path d="M253.2,262.9L255.9,265.6L253.2,268.4L250.4,265.6Z" fill="#3f1856"/>
<path d="M257.2,258.9L259.9,261.7L257.2,264.4L254.4,261.7Z" fill="#3f1856"/>
<path d="M262.9,249.8L265.6,252.6L262.9,255.3L260.1,252.6Z" fill="#3f1856"/>
<path d="M266.8,254.6L269.6,257.4L266.8,260.1L264.1,257.4Z" fill="#3f1856"/>
<path d="M272.4,247.3L275.1,250.1L272.4,252.8L269.6,250.1Z" fill="#3f1856"/>
<path d="M276.4,253.4L279.1,256.1L276.4,258.9L273.6,256.1Z" fill="#3f1856"/>
<path d="M281.5,243.3L284.2,246.1L281.5,248.8L278.8,246.1Z" fill="#3f1856"/>
<path d="M285.9,250.7L288.6,253.4L285.9,256.1L283.1,253.4Z" fill="#3f1856"/>
<path d="M291.0,252.2L293.8,255.0L291.0,257.8L288.2,255.0Z" fill="#3f1856"/>
<path d="M295.2,246.9L297.9,249.7L295.2,252.4L292.4,249.7Z" fill="#3f1856"/>
<path d="M300.3,255.8L303.1,258.5L300.3,261.2L297.6,258.5Z" fill="#3f1856"/>
<path d="M304.3,250.9L307.1,253.7L304.3,256.4L301.6,253.7Z" fill="#3f1856"/>
<path d="M309.6,244.2L312.4,247.0L309.6,249.8L306.9,247.0Z" fill="#3f1856"/>
<path d="M313.9,246.2L316.6,248.9L313.9,251.7L311.1,248.9Z" fill="#3f1856"/>
<path d="M319.1,248.6L321.9,251.3L319.1,254.1L316.4,251.3Z" fill="#3f1856"/>
<path d="M323.0,241.8L325.8,244.5L323.0,247.2L320.2,244.5Z" fill="#3f1856"/>
<path d="M328.2,239.4L330.9,242.2L328.2,244.9L325.4,242.2Z" fill="#3f1856"/>
<path d="M331.4,235.8L334.1,238.6L331.4,241.3L328.6,238.6Z" fill="#3f1856"/>
<path d="M340.5,237.8L343.2,240.6L340.5,243.3L337.8,240.6Z" fill="#3f1856"/>
<text x="437.41" y="203.90" font-size="9.3" font-weight="bold" fill="#111" stroke="#111" stroke-width="0.3" textLength="19.19" lengthAdjust="spacingAndGlyphs" >BUN</text>
<path d="M379.6,213.5 V207.1 H424.1 V213.5" stroke="#2a2a2a" stroke-width="1.2" fill="none" />
<circle cx="395.2" cy="204.0" r="1.3" fill="#1a1a1a"/>
<circle cx="399.3" cy="204.0" r="1.3" fill="#1a1a1a"/>
<circle cx="403.3" cy="204.0" r="1.3" fill="#1a1a1a"/>
<circle cx="407.3" cy="204.0" r="1.3" fill="#1a1a1a"/>
<line x1="379.4" y1="216.9" x2="379.4" y2="307.7" stroke="#2a2a2a" stroke-width="1.2" />
<line x1="376.0" y1="217.5" x2="379.4" y2="217.5" stroke="#2a2a2a" stroke-width="1.1" />
<line x1="376.0" y1="247.5" x2="379.4" y2="247.5" stroke="#2a2a2a" stroke-width="1.1" />
<line x1="376.0" y1="277.5" x2="379.4" y2="277.5" stroke="#2a2a2a" stroke-width="1.1" />
<line x1="376.0" y1="307.3" x2="379.4" y2="307.3" stroke="#2a2a2a" stroke-width="1.1" />
<text x="367.32" y="220.34" font-size="6.8" font-weight="bold" fill="#111" stroke="#111" stroke-width="0.3">40</text>
<text x="367.32" y="250.34" font-size="6.8" font-weight="bold" fill="#111" stroke="#111" stroke-width="0.3">30</text>
<text x="367.32" y="280.34" font-size="6.8" font-weight="bold" fill="#111" stroke="#111" stroke-width="0.3">20</text>
<text x="367.32" y="310.14" font-size="6.8" font-weight="bold" fill="#111" stroke="#111" stroke-width="0.3">10</text>
<line x1="378.9" y1="307.3" x2="514.7" y2="307.3" stroke="#2a2a2a" stroke-width="1.3" />
<line x1="379.4" y1="307.3" x2="379.4" y2="310.3" stroke="#2a2a2a" stroke-width="1.2" />
<line x1="386.1" y1="307.3" x2="386.1" y2="309.3" stroke="#2a2a2a" stroke-width="1.35" />
<line x1="392.9" y1="307.3" x2="392.9" y2="309.3" stroke="#2a2a2a" stroke-width="1.35" />
<line x1="399.6" y1="307.3" x2="399.6" y2="309.3" stroke="#2a2a2a" stroke-width="1.35" />
<line x1="406.4" y1="307.3" x2="406.4" y2="309.3" stroke="#2a2a2a" stroke-width="1.35" />
<line x1="413.1" y1="307.3" x2="413.1" y2="309.3" stroke="#2a2a2a" stroke-width="1.35" />
<line x1="419.8" y1="307.3" x2="419.8" y2="309.3" stroke="#2a2a2a" stroke-width="1.35" />
<line x1="426.6" y1="307.3" x2="426.6" y2="309.3" stroke="#2a2a2a" stroke-width="1.35" />
<line x1="433.3" y1="307.3" x2="433.3" y2="309.3" stroke="#2a2a2a" stroke-width="1.35" />
<line x1="440.1" y1="307.3" x2="440.1" y2="309.3" stroke="#2a2a2a" stroke-width="1.35" />
<line x1="446.8" y1="307.3" x2="446.8" y2="310.3" stroke="#2a2a2a" stroke-width="1.2" />
<line x1="453.5" y1="307.3" x2="453.5" y2="309.3" stroke="#2a2a2a" stroke-width="1.35" />
<line x1="460.3" y1="307.3" x2="460.3" y2="309.3" stroke="#2a2a2a" stroke-width="1.35" />
<line x1="467.0" y1="307.3" x2="467.0" y2="309.3" stroke="#2a2a2a" stroke-width="1.35" />
<line x1="473.8" y1="307.3" x2="473.8" y2="309.3" stroke="#2a2a2a" stroke-width="1.35" />
<line x1="480.5" y1="307.3" x2="480.5" y2="309.3" stroke="#2a2a2a" stroke-width="1.35" />
<line x1="487.2" y1="307.3" x2="487.2" y2="309.3" stroke="#2a2a2a" stroke-width="1.35" />
<line x1="494.0" y1="307.3" x2="494.0" y2="309.3" stroke="#2a2a2a" stroke-width="1.35" />
<line x1="500.7" y1="307.3" x2="500.7" y2="309.3" stroke="#2a2a2a" stroke-width="1.35" />
<line x1="507.5" y1="307.3" x2="507.5" y2="309.3" stroke="#2a2a2a" stroke-width="1.35" />
<line x1="514.2" y1="307.3" x2="514.2" y2="310.3" stroke="#2a2a2a" stroke-width="1.2" />
<text x="377.51" y="318.94" font-size="6.8" font-weight="bold" fill="#111" stroke="#111" stroke-width="0.3">0</text>
<text x="443.45" y="318.94" font-size="6.8" font-weight="bold" fill="#111" stroke="#111" stroke-width="0.3">50</text>
<text x="508.45" y="318.94" font-size="6.8" font-weight="bold" fill="#111" stroke="#111" stroke-width="0.3">100</text>
<text x="437.81" y="328.75" font-size="7" font-weight="bold" fill="#111" stroke="#111" stroke-width="0.3" textLength="17.59" lengthAdjust="spacingAndGlyphs" >Days</text>
<text transform="translate(359.00,273.79) rotate(-90)" x="0" y="0" font-size="6.8" font-weight="bold" fill="#111" stroke="#111" stroke-width="0.3" textLength="22.32" lengthAdjust="spacingAndGlyphs">mg/dL</text>
<polyline points="379.3,250.2 383.7,235.4 389.0,244.5 393.0,271.4 398.4,274.3 402.7,283.0 407.9,263.7 412.2,280.1 416.8,262.2 421.2,280.1 426.2,294.0 430.5,292.1 435.9,271.2 440.2,262.2 445.4,265.4 449.5,288.8 454.6,269.6 458.8,281.9 464.2,261.2 468.0,244.7 473.5,238.5 478.2,230.8 483.1,278.8 487.4,244.7 492.6,248.8 496.6,269.6 501.8,268.4 504.6,277.3 511.1,286.2 514.2,256.5" fill="none" stroke="#f4d2e2" stroke-width="0.8"/>
<polyline points="379.3,297.8 383.7,298.3 389.0,295.4 393.0,288.9 398.4,291.1 402.7,286.3 407.9,298.3 412.2,291.1 416.8,291.1 421.2,291.1 426.2,286.3 430.5,292.1 435.9,289.2 440.2,293.9 445.4,296.8 449.5,293.5 454.6,296.5 458.8,298.1 464.2,301.2 468.0,298.1 473.5,301.2 478.2,298.1 483.1,292.4 487.4,292.4 492.6,303.8 496.6,298.1 501.8,295.0 504.6,295.0 511.1,301.2 514.2,298.1" fill="none" stroke="#f2bfd8" stroke-width="0.9"/>
<path d="M379.3,247.8L381.8,250.2L379.3,252.6L376.9,250.2Z" fill="#fff" stroke="#bc5a8a" stroke-width="1.1"/>
<path d="M383.7,233.0L386.1,235.4L383.7,237.8L381.2,235.4Z" fill="#fff" stroke="#bc5a8a" stroke-width="1.1"/>
<path d="M389.0,242.1L391.4,244.5L389.0,246.9L386.6,244.5Z" fill="#fff" stroke="#bc5a8a" stroke-width="1.1"/>
<path d="M393.0,268.9L395.4,271.4L393.0,273.8L390.6,271.4Z" fill="#fff" stroke="#bc5a8a" stroke-width="1.1"/>
<path d="M398.4,271.9L400.8,274.3L398.4,276.8L395.9,274.3Z" fill="#fff" stroke="#bc5a8a" stroke-width="1.1"/>
<path d="M402.7,280.6L405.1,283.0L402.7,285.4L400.2,283.0Z" fill="#fff" stroke="#bc5a8a" stroke-width="1.1"/>
<path d="M407.9,261.2L410.3,263.7L407.9,266.1L405.4,263.7Z" fill="#fff" stroke="#bc5a8a" stroke-width="1.1"/>
<path d="M412.2,277.7L414.6,280.1L412.2,282.6L409.8,280.1Z" fill="#fff" stroke="#bc5a8a" stroke-width="1.1"/>
<path d="M416.8,259.8L419.2,262.2L416.8,264.6L414.4,262.2Z" fill="#fff" stroke="#bc5a8a" stroke-width="1.1"/>
<path d="M421.2,277.7L423.6,280.1L421.2,282.6L418.8,280.1Z" fill="#fff" stroke="#bc5a8a" stroke-width="1.1"/>
<path d="M426.2,291.6L428.6,294.0L426.2,296.4L423.8,294.0Z" fill="#fff" stroke="#bc5a8a" stroke-width="1.1"/>
<path d="M430.5,289.7L432.9,292.1L430.5,294.6L428.1,292.1Z" fill="#fff" stroke="#bc5a8a" stroke-width="1.1"/>
<path d="M435.9,268.8L438.3,271.2L435.9,273.6L433.4,271.2Z" fill="#fff" stroke="#bc5a8a" stroke-width="1.1"/>
<path d="M440.2,259.8L442.6,262.2L440.2,264.6L437.8,262.2Z" fill="#fff" stroke="#bc5a8a" stroke-width="1.1"/>
<path d="M445.4,262.9L447.8,265.4L445.4,267.8L442.9,265.4Z" fill="#fff" stroke="#bc5a8a" stroke-width="1.1"/>
<path d="M449.5,286.4L451.9,288.8L449.5,291.2L447.1,288.8Z" fill="#fff" stroke="#bc5a8a" stroke-width="1.1"/>
<path d="M454.6,267.2L457.1,269.6L454.6,272.1L452.2,269.6Z" fill="#fff" stroke="#bc5a8a" stroke-width="1.1"/>
<path d="M458.8,279.4L461.2,281.9L458.8,284.3L456.4,281.9Z" fill="#fff" stroke="#bc5a8a" stroke-width="1.1"/>
<path d="M464.2,258.8L466.6,261.2L464.2,263.6L461.8,261.2Z" fill="#fff" stroke="#bc5a8a" stroke-width="1.1"/>
<path d="M468.0,242.2L470.4,244.7L468.0,247.1L465.6,244.7Z" fill="#fff" stroke="#bc5a8a" stroke-width="1.1"/>
<path d="M473.5,236.1L475.9,238.5L473.5,240.9L471.1,238.5Z" fill="#fff" stroke="#bc5a8a" stroke-width="1.1"/>
<path d="M478.2,228.4L480.6,230.8L478.2,233.2L475.8,230.8Z" fill="#fff" stroke="#bc5a8a" stroke-width="1.1"/>
<path d="M483.1,276.4L485.6,278.8L483.1,281.2L480.7,278.8Z" fill="#fff" stroke="#bc5a8a" stroke-width="1.1"/>
<path d="M487.4,242.2L489.8,244.7L487.4,247.1L484.9,244.7Z" fill="#fff" stroke="#bc5a8a" stroke-width="1.1"/>
<path d="M492.6,246.4L495.1,248.8L492.6,251.2L490.2,248.8Z" fill="#fff" stroke="#bc5a8a" stroke-width="1.1"/>
<path d="M496.6,267.2L499.1,269.6L496.6,272.1L494.2,269.6Z" fill="#fff" stroke="#bc5a8a" stroke-width="1.1"/>
<path d="M501.8,265.9L504.2,268.4L501.8,270.8L499.4,268.4Z" fill="#fff" stroke="#bc5a8a" stroke-width="1.1"/>
<path d="M504.6,274.9L507.1,277.3L504.6,279.8L502.2,277.3Z" fill="#fff" stroke="#bc5a8a" stroke-width="1.1"/>
<path d="M511.1,283.8L513.6,286.2L511.1,288.6L508.7,286.2Z" fill="#fff" stroke="#bc5a8a" stroke-width="1.1"/>
<path d="M514.2,254.1L516.7,256.5L514.2,258.9L511.8,256.5Z" fill="#fff" stroke="#bc5a8a" stroke-width="1.1"/>
<path d="M379.3,295.1L382.1,297.8L379.3,300.6L376.6,297.8Z" fill="#c81c6c"/>
<path d="M383.7,295.6L386.4,298.3L383.7,301.1L380.9,298.3Z" fill="#c81c6c"/>
<path d="M389.0,292.6L391.8,295.4L389.0,298.1L386.2,295.4Z" fill="#c81c6c"/>
<path d="M393.0,286.1L395.8,288.9L393.0,291.6L390.2,288.9Z" fill="#c81c6c"/>
<path d="M398.4,288.4L401.1,291.1L398.4,293.9L395.6,291.1Z" fill="#c81c6c"/>
<path d="M402.7,283.6L405.4,286.3L402.7,289.1L399.9,286.3Z" fill="#c81c6c"/>
<path d="M407.9,295.6L410.6,298.3L407.9,301.1L405.1,298.3Z" fill="#c81c6c"/>
<path d="M412.2,288.4L414.9,291.1L412.2,293.9L409.4,291.1Z" fill="#c81c6c"/>
<path d="M416.8,288.4L419.6,291.1L416.8,293.9L414.1,291.1Z" fill="#c81c6c"/>
<path d="M421.2,288.4L423.9,291.1L421.2,293.9L418.4,291.1Z" fill="#c81c6c"/>
<path d="M426.2,283.6L428.9,286.3L426.2,289.1L423.4,286.3Z" fill="#c81c6c"/>
<path d="M430.5,289.4L433.2,292.1L430.5,294.9L427.8,292.1Z" fill="#c81c6c"/>
<path d="M435.9,286.4L438.6,289.2L435.9,291.9L433.1,289.2Z" fill="#c81c6c"/>
<path d="M440.2,291.1L442.9,293.9L440.2,296.6L437.4,293.9Z" fill="#c81c6c"/>
<path d="M445.4,294.1L448.1,296.8L445.4,299.6L442.6,296.8Z" fill="#c81c6c"/>
<path d="M449.5,290.8L452.2,293.5L449.5,296.2L446.8,293.5Z" fill="#c81c6c"/>
<path d="M454.6,293.8L457.4,296.5L454.6,299.2L451.9,296.5Z" fill="#c81c6c"/>
<path d="M458.8,295.4L461.6,298.1L458.8,300.9L456.1,298.1Z" fill="#c81c6c"/>
<path d="M464.2,298.4L466.9,301.2L464.2,303.9L461.4,301.2Z" fill="#c81c6c"/>
<path d="M468.0,295.4L470.8,298.1L468.0,300.9L465.2,298.1Z" fill="#c81c6c"/>
<path d="M473.5,298.4L476.2,301.2L473.5,303.9L470.8,301.2Z" fill="#c81c6c"/>
<path d="M478.2,295.4L480.9,298.1L478.2,300.9L475.4,298.1Z" fill="#c81c6c"/>
<path d="M483.1,289.6L485.9,292.4L483.1,295.1L480.4,292.4Z" fill="#c81c6c"/>
<path d="M487.4,289.6L490.1,292.4L487.4,295.1L484.6,292.4Z" fill="#c81c6c"/>
<path d="M492.6,301.1L495.4,303.8L492.6,306.6L489.9,303.8Z" fill="#c81c6c"/>
<path d="M496.6,295.4L499.4,298.1L496.6,300.9L493.9,298.1Z" fill="#c81c6c"/>
<path d="M501.8,292.2L504.6,295.0L501.8,297.8L499.1,295.0Z" fill="#c81c6c"/>
<path d="M504.6,292.2L507.4,295.0L504.6,297.8L501.9,295.0Z" fill="#c81c6c"/>
<path d="M511.1,298.4L513.9,301.2L511.1,303.9L508.4,301.2Z" fill="#c81c6c"/>
<path d="M514.2,295.4L517.0,298.1L514.2,300.9L511.5,298.1Z" fill="#c81c6c"/>
<text x="47.66" y="354.80" font-size="12.4" font-weight="bold" fill="#111" stroke="#111" stroke-width="0.3" textLength="53.15" lengthAdjust="spacingAndGlyphs" >Figure 1:</text>
<text x="104.44" y="354.80" font-size="12.4" font-weight="bold" fill="#111" stroke="#111" stroke-width="0.3" textLength="280.84" lengthAdjust="spacingAndGlyphs" >Significant treatment day 7 prognostic markers:</text>
<text x="48.26" y="369.10" font-size="12.2" fill="#141414" stroke="#141414" stroke-width="0.2" textLength="122.35" lengthAdjust="spacingAndGlyphs" >sCD25=soluble CD25,</text>
<text x="172.73" y="369.10" font-size="12.2" fill="#141414" stroke="#141414" stroke-width="0.2" textLength="222.26" lengthAdjust="spacingAndGlyphs" >fold change = change from pre-treatment</text>
<text x="401.56" y="369.10" font-size="12.2" fill="#141414" stroke="#141414" stroke-width="0.2" textLength="31.40" lengthAdjust="spacingAndGlyphs" >value,</text>
<text x="48.38" y="383.60" font-size="12.2" fill="#141414" stroke="#141414" stroke-width="0.2" textLength="86.08" lengthAdjust="spacingAndGlyphs" >ALC = absolute</text>
<text x="137.02" y="383.60" font-size="12.2" fill="#141414" stroke="#141414" stroke-width="0.2" textLength="58.24" lengthAdjust="spacingAndGlyphs" >lymphocyte</text>
<text x="202.00" y="383.60" font-size="12.2" fill="#141414" stroke="#141414" stroke-width="0.2" textLength="32.16" lengthAdjust="spacingAndGlyphs" >count,</text>
<text x="242.74" y="383.60" font-size="12.2" fill="#141414" stroke="#141414" stroke-width="0.2" textLength="145.55" lengthAdjust="spacingAndGlyphs" >BUN = blood urea nitrogen</text>
<text x="49.01" y="398.10" font-size="12.2" fill="#141414" stroke="#141414" stroke-width="0.2" textLength="101.27" lengthAdjust="spacingAndGlyphs" >* - p-value=0.0288,</text>
<text x="157.21" y="398.10" font-size="12.2" fill="#141414" stroke="#141414" stroke-width="0.2" textLength="106.17" lengthAdjust="spacingAndGlyphs" >** - p-value=0.0015,</text>
<text x="269.31" y="398.10" font-size="12.2" fill="#141414" stroke="#141414" stroke-width="0.2" textLength="111.98" lengthAdjust="spacingAndGlyphs" >*** - p-value=0.0002,</text>
<text x="386.91" y="398.10" font-size="12.2" fill="#141414" stroke="#141414" stroke-width="0.2" textLength="67.72" lengthAdjust="spacingAndGlyphs" >**** - p-value</text>
<text x="460.31" y="398.10" font-size="12.2" fill="#141414" stroke="#141414" stroke-width="0.2" textLength="43.57" lengthAdjust="spacingAndGlyphs" >&lt;0.0001</text>
<text x="183.06" y="447.10" font-size="10.8" font-weight="bold" fill="#111" stroke="#111" stroke-width="0.3" textLength="177.29" lengthAdjust="spacingAndGlyphs" >Day  7 Poor Prognostic Indicators</text>
<text x="225.76" y="459.70" font-size="10.8" font-weight="bold" fill="#111" stroke="#111" stroke-width="0.3" textLength="91.52" lengthAdjust="spacingAndGlyphs" >Pre-BMT Survival</text>
<line x1="185.0" y1="461.5" x2="185.0" y2="579.4" stroke="#2a2a2a" stroke-width="1.3" />
<line x1="180.0" y1="578.8" x2="185.0" y2="578.8" stroke="#2a2a2a" stroke-width="1.2" />
<line x1="182.4" y1="568.1" x2="185.0" y2="568.1" stroke="#2a2a2a" stroke-width="1.2" />
<line x1="182.4" y1="557.5" x2="185.0" y2="557.5" stroke="#2a2a2a" stroke-width="1.2" />
<line x1="182.4" y1="546.8" x2="185.0" y2="546.8" stroke="#2a2a2a" stroke-width="1.2" />
<line x1="182.4" y1="536.2" x2="185.0" y2="536.2" stroke="#2a2a2a" stroke-width="1.2" />
<line x1="180.0" y1="525.5" x2="185.0" y2="525.5" stroke="#2a2a2a" stroke-width="1.2" />
<line x1="182.4" y1="514.8" x2="185.0" y2="514.8" stroke="#2a2a2a" stroke-width="1.2" />
<line x1="182.4" y1="504.2" x2="185.0" y2="504.2" stroke="#2a2a2a" stroke-width="1.2" />
<line x1="182.4" y1="493.5" x2="185.0" y2="493.5" stroke="#2a2a2a" stroke-width="1.2" />
<line x1="182.4" y1="482.9" x2="185.0" y2="482.9" stroke="#2a2a2a" stroke-width="1.2" />
<line x1="180.0" y1="472.2" x2="185.0" y2="472.2" stroke="#2a2a2a" stroke-width="1.2" />
<line x1="182.4" y1="461.5" x2="185.0" y2="461.5" stroke="#2a2a2a" stroke-width="1.2" />
<text x="163.20" y="475.65" font-size="9.6" font-weight="bold" fill="#111" stroke="#111" stroke-width="0.3" textLength="14.45" lengthAdjust="spacingAndGlyphs" >100</text>
<text x="167.93" y="529.20" font-size="9.6" font-weight="bold" fill="#111" stroke="#111" stroke-width="0.3" textLength="9.83" lengthAdjust="spacingAndGlyphs" >50</text>
<text x="172.85" y="582.20" font-size="9.6" font-weight="bold" fill="#111" stroke="#111" stroke-width="0.3" textLength="4.91" lengthAdjust="spacingAndGlyphs" >0</text>
<line x1="184.4" y1="578.8" x2="359.0" y2="578.8" stroke="#2a2a2a" stroke-width="1.3" />
<line x1="185.0" y1="578.8" x2="185.0" y2="583.4" stroke="#2a2a2a" stroke-width="1.2" />
<line x1="193.7" y1="578.8" x2="193.7" y2="581.4" stroke="#2a2a2a" stroke-width="1.2" />
<line x1="202.4" y1="578.8" x2="202.4" y2="581.4" stroke="#2a2a2a" stroke-width="1.2" />
<line x1="211.1" y1="578.8" x2="211.1" y2="581.4" stroke="#2a2a2a" stroke-width="1.2" />
<line x1="219.8" y1="578.8" x2="219.8" y2="581.4" stroke="#2a2a2a" stroke-width="1.2" />
<line x1="228.4" y1="578.8" x2="228.4" y2="583.4" stroke="#2a2a2a" stroke-width="1.2" />
<line x1="237.1" y1="578.8" x2="237.1" y2="581.4" stroke="#2a2a2a" stroke-width="1.2" />
<line x1="245.8" y1="578.8" x2="245.8" y2="581.4" stroke="#2a2a2a" stroke-width="1.2" />
<line x1="254.5" y1="578.8" x2="254.5" y2="581.4" stroke="#2a2a2a" stroke-width="1.2" />
<line x1="263.2" y1="578.8" x2="263.2" y2="581.4" stroke="#2a2a2a" stroke-width="1.2" />
<line x1="271.9" y1="578.8" x2="271.9" y2="583.4" stroke="#2a2a2a" stroke-width="1.2" />
<line x1="280.6" y1="578.8" x2="280.6" y2="581.4" stroke="#2a2a2a" stroke-width="1.2" />
<line x1="289.3" y1="578.8" x2="289.3" y2="581.4" stroke="#2a2a2a" stroke-width="1.2" />
<line x1="298.0" y1="578.8" x2="298.0" y2="581.4" stroke="#2a2a2a" stroke-width="1.2" />
<line x1="306.7" y1="578.8" x2="306.7" y2="581.4" stroke="#2a2a2a" stroke-width="1.2" />
<line x1="315.4" y1="578.8" x2="315.4" y2="583.4" stroke="#2a2a2a" stroke-width="1.2" />
<line x1="324.0" y1="578.8" x2="324.0" y2="581.4" stroke="#2a2a2a" stroke-width="1.2" />
<line x1="332.7" y1="578.8" x2="332.7" y2="581.4" stroke="#2a2a2a" stroke-width="1.2" />
<line x1="341.4" y1="578.8" x2="341.4" y2="581.4" stroke="#2a2a2a" stroke-width="1.2" />
<line x1="350.1" y1="578.8" x2="350.1" y2="581.4" stroke="#2a2a2a" stroke-width="1.2" />
<line x1="358.8" y1="578.8" x2="358.8" y2="583.4" stroke="#2a2a2a" stroke-width="1.2" />
<text x="182.26" y="593.60" font-size="9.6" font-weight="bold" fill="#111" stroke="#111" stroke-width="0.3" textLength="4.79" lengthAdjust="spacingAndGlyphs" >0</text>
<text x="221.16" y="593.60" font-size="9.6" font-weight="bold" fill="#111" stroke="#111" stroke-width="0.3" textLength="14.40" lengthAdjust="spacingAndGlyphs" >100</text>
<text x="264.76" y="593.60" font-size="9.6" font-weight="bold" fill="#111" stroke="#111" stroke-width="0.3" textLength="14.14" lengthAdjust="spacingAndGlyphs" >200</text>
<text x="308.21" y="593.60" font-size="9.6" font-weight="bold" fill="#111" stroke="#111" stroke-width="0.3" textLength="14.04" lengthAdjust="spacingAndGlyphs" >300</text>
<text x="351.72" y="593.60" font-size="9.6" font-weight="bold" fill="#111" stroke="#111" stroke-width="0.3" textLength="13.97" lengthAdjust="spacingAndGlyphs" >400</text>
<text x="260.57" y="607.00" font-size="10.2" font-weight="bold" fill="#111" stroke="#111" stroke-width="0.3" textLength="22.52" lengthAdjust="spacingAndGlyphs" >Days</text>
<text transform="translate(155.70,566.22) rotate(-90)" x="0" y="0" font-size="10.0" font-weight="bold" fill="#111" stroke="#111" stroke-width="0.3" textLength="97.88" lengthAdjust="spacingAndGlyphs">Probability of Survival</text>
<path d="M185.0,473.5 H187.7 V502.7 H225.8 V532.9 H230.3 V548 H235.4 V563.4 H347.9 V578.8" stroke="#a0a0a0" stroke-width="1.2" fill="none" />
<rect x="184.7" y="484.5" width="6.2" height="6.2" fill="#7a7a7a"/>
<rect x="185.6" y="499.7" width="6.2" height="6.2" fill="#7a7a7a"/>
<rect x="222.8" y="529.8" width="6.2" height="6.2" fill="#7a7a7a"/>
<rect x="227.1" y="544.9" width="6.2" height="6.2" fill="#7a7a7a"/>
<rect x="232.4" y="560.3" width="6.2" height="6.2" fill="#7a7a7a"/>
<rect x="344.8" y="575.2" width="6.2" height="6.2" fill="#7a7a7a"/>
<path d="M185.0,473.6 H245.5 L248,481.3 H361" stroke="#111" stroke-width="1.1" fill="none" />
<rect x="206.5" y="471.3" width="8.4" height="5" fill="#0a0a0a"/>
<rect x="216.6" y="471.3" width="28.8" height="5" fill="#0a0a0a"/>
<path d="M244.5,471.3 L247,471.3 L249.5,479.2 L249.5,483.8 L246.5,483.8 L244.5,476.3 Z" fill="#0a0a0a"/>
<rect x="247" y="479.1" width="18.4" height="4.8" fill="#0a0a0a"/>
<rect x="268.0" y="479.0" width="4.8" height="4.8" fill="#0a0a0a"/>
<rect x="284.2" y="479.0" width="4.8" height="4.8" fill="#0a0a0a"/>
<rect x="288.2" y="479.0" width="4.8" height="4.8" fill="#0a0a0a"/>
<rect x="302.4" y="479.0" width="4.8" height="4.8" fill="#0a0a0a"/>
<rect x="347.5" y="479.0" width="4.8" height="4.8" fill="#0a0a0a"/>
<rect x="356.0" y="479.0" width="4.8" height="4.8" fill="#0a0a0a"/>
<text x="310.39" y="500.20" font-size="9.2" fill="#3a3a3a" textLength="17.52" lengthAdjust="spacingAndGlyphs" stroke="#3a3a3a" stroke-width="0.35">95%</text>
<text x="329.35" y="500.20" font-size="9.2" fill="#3a3a3a" textLength="30.66" lengthAdjust="spacingAndGlyphs" stroke="#3a3a3a" stroke-width="0.35">survival</text>
<text x="314.89" y="553.20" font-size="9.2" fill="#3a3a3a" textLength="11.39" lengthAdjust="spacingAndGlyphs" stroke="#3a3a3a" stroke-width="0.35">0%</text>
<text x="329.75" y="553.20" font-size="9.2" fill="#3a3a3a" textLength="30.76" lengthAdjust="spacingAndGlyphs" stroke="#3a3a3a" stroke-width="0.35">survival</text>
<line x1="184.5" y1="620.5" x2="196.2" y2="620.5" stroke="#222" stroke-width="0.9" />
<rect x="188.3" y="618.6" width="3.8" height="3.8" fill="#000"/>
<line x1="184.5" y1="645.8" x2="196.2" y2="645.8" stroke="#999" stroke-width="0.9" />
<rect x="187.6" y="643.3" width="5" height="5" fill="#8a8a8a"/>
<text x="203.23" y="623.70" font-size="9.4" fill="#222" stroke="#222" stroke-width="0.2" textLength="158.56" lengthAdjust="spacingAndGlyphs" >0-2 Poor Prognostic Indicators (n=79)</text>
<text x="203.31" y="650.00" font-size="9.4" fill="#222" stroke="#222" stroke-width="0.2" textLength="146.27" lengthAdjust="spacingAndGlyphs" >≥3 Poor Prognostic Indicators (n=7)</text>
<path d="M363,620.7 H368.3 V648 H363" stroke="#444" stroke-width="1.0" fill="none" />
<circle cx="372.9" cy="634.7" r="1.3" fill="#1a1a1a"/>
<circle cx="376.7" cy="634.7" r="1.3" fill="#1a1a1a"/>
<circle cx="380.3" cy="634.7" r="1.3" fill="#1a1a1a"/>
<circle cx="384.0" cy="634.7" r="1.3" fill="#1a1a1a"/>
<text x="82.97" y="674.00" font-size="12.4" font-weight="bold" fill="#111" stroke="#111" stroke-width="0.3" textLength="335.41" lengthAdjust="spacingAndGlyphs" >Figure 2: Presence of three or more treatment-day 7 poor</text>
<text x="82.99" y="687.40" font-size="12.4" font-weight="bold" fill="#111" stroke="#111" stroke-width="0.3" textLength="384.39" lengthAdjust="spacingAndGlyphs" >prognostic indicators is most predictive of poor pre-BMT survival</text>
<text x="82.79" y="703.00" font-size="12.2" fill="#141414" stroke="#141414" stroke-width="0.2" textLength="165.21" lengthAdjust="spacingAndGlyphs" >BMT=bone marrow transplant,</text>
<text x="253.60" y="703.00" font-size="12.2" fill="#141414" stroke="#141414" stroke-width="0.2" textLength="117.19" lengthAdjust="spacingAndGlyphs" >**** - p-value &lt;0.0001</text>
</svg>
</body></html>
